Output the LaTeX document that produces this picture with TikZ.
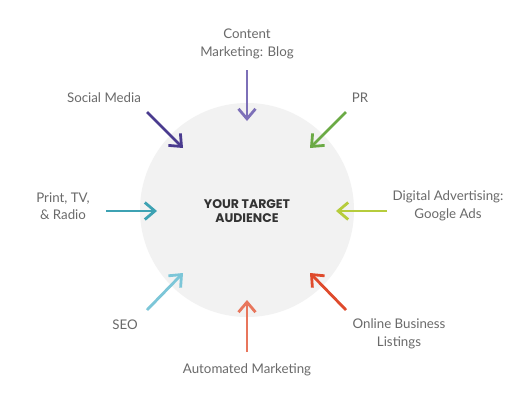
\documentclass[tikz,border=0pt]{standalone}
\usepackage{fontspec}
\setmainfont{Lato}
\newfontfamily\ctrfont{Poppins}
\usetikzlibrary{arrows.meta}
\definecolor{cfill}{HTML}{F2F2F2}
\definecolor{ctext}{HTML}{333333}
\definecolor{ltext}{HTML}{6A6A6A}
\definecolor{cA}{HTML}{7D70B8}
\definecolor{cB}{HTML}{4A3B8F}
\definecolor{cC}{HTML}{6BAA45}
\definecolor{cD}{HTML}{B6CC3C}
\definecolor{cE}{HTML}{DF4A2C}
\definecolor{cF}{HTML}{E8765C}
\definecolor{cG}{HTML}{7CC6D8}
\definecolor{cH}{HTML}{3DA2B3}
\tikzset{
  arr/.style={line width=2.8pt, -{Straight Barb[length=10pt,width=17pt]}},
  lbl/.style={font=\fontsize{13.3}{17.5}\selectfont, text=ltext, align=center, inner sep=0pt},
}
\begin{document}
\begin{tikzpicture}[x=1pt,y=-1pt]
\useasboundingbox (0,0) rectangle (520,400);
\fill[white] (0,0) rectangle (520,400);
\node[circle, fill=cfill, minimum size=214pt, inner sep=0pt] (c) at (247,210) {};
\node[font=\ctrfont\bfseries\fontsize{12.5}{14}\selectfont, text=ctext, align=center] (t) at (247,211) {YOUR TARGET\\AUDIENCE};
% coordinates
\coordinate (a1) at (247,70);  \coordinate (a2) at (247,121);
\coordinate (b1) at (147,112); \coordinate (b2) at (183,148);
\coordinate (p1) at (346,112); \coordinate (p2) at (310,148);
\coordinate (d1) at (387,211); \coordinate (d2) at (336,211);
\coordinate (o1) at (346,310); \coordinate (o2) at (310,273);
\coordinate (m1) at (247,352); \coordinate (m2) at (247,300);
\coordinate (s1) at (147,310); \coordinate (s2) at (183,273);
\coordinate (r1) at (106,211); \coordinate (r2) at (157,211);
\draw[arr, cA] (a1) -- (a2);
\draw[arr, cB] (b1) -- (b2);
\draw[arr, cC] (p1) -- (p2);
\draw[arr, cD] (d1) -- (d2);
\draw[arr, cE] (o1) -- (o2);
\draw[arr, cF] (m1) -- (m2);
\draw[arr, cG] (s1) -- (s2);
\draw[arr, cH] (r1) -- (r2);
\node[lbl] (la) at (247,44) {Content\\Marketing: Blog};
\node[lbl] (lb) at (104,98) {Social Media};
\node[lbl] (lc) at (360,98) {PR};
\node[lbl] (ld) at (448,206) {Digital Advertising:\\Google Ads};
\node[lbl] (le) at (399,334) {Online Business\\Listings};
\node[lbl] (lf) at (247,370) {Automated Marketing};
\node[lbl] (lg) at (125,325) {SEO};
\node[lbl] (lh) at (63,206) {Print, TV,\\\& Radio};
\end{tikzpicture}
\end{document}
